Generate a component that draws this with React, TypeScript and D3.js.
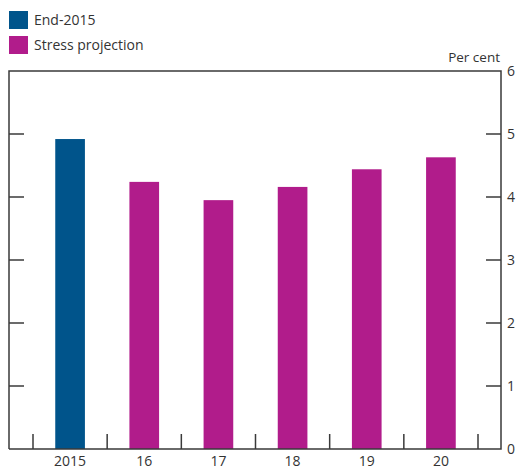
import React from 'react';
import * as d3 from 'd3';

const categories = ['2015', '16', '17', '18', '19', '20'];
const values = [4.92, 4.24, 3.95, 4.16, 4.44, 4.63];
const seriesOf = ['End-2015', 'Stress projection', 'Stress projection', 'Stress projection', 'Stress projection', 'Stress projection'];
const legendItems = ['End-2015', 'Stress projection'];
const yTicks = [0, 1, 2, 3, 4, 5, 6];

const colors: Record<string, string> = {
  'End-2015': '#00548B',
  'Stress projection': '#B11C8B',
};

const W = 517;
const H = 470;
const frame = { left: 9, right: 501, top: 71, bottom: 449 };
const axisColor = '#3a3a3a';
const textColor = '#333';
const font = "'Open Sans', 'Noto Sans', sans-serif";

const App: React.FC = () => {
  const svgRef = React.useRef<SVGSVGElement>(null);

  React.useEffect(() => {
    if (!svgRef.current) return;
    const svg = d3.select(svgRef.current);
    svg.selectAll('*').remove();

    const x = d3.scaleBand<string>().domain(categories).range([33, 478]).padding(0);
    const y = d3.scaleLinear().domain([0, 6]).range([frame.bottom, frame.top]);
    const barW = x.bandwidth() * 0.4;

    // Bars
    svg.append('g')
      .selectAll('rect')
      .data(categories)
      .enter().append('rect')
      .attr('x', d => (x(d) || 0) + x.bandwidth() / 2 - barW / 2)
      .attr('y', (d, i) => y(values[i]))
      .attr('width', barW)
      .attr('height', (d, i) => y(0) - y(values[i]))
      .attr('fill', (d, i) => colors[seriesOf[i]]);

    // Frame (top, left, right, bottom)
    svg.append('path')
      .attr('d', `M${frame.left},${frame.bottom}V${frame.top}H${frame.right}V${frame.bottom}H${frame.left}`)
      .attr('fill', 'none')
      .attr('stroke', axisColor)
      .attr('stroke-width', 1.5);

    // Y ticks inward on both sides
    const inner = yTicks.filter(t => t > 0 && t < 6);
    svg.append('g').selectAll('line.l').data(inner).enter().append('line')
      .attr('x1', frame.left).attr('x2', frame.left + 15)
      .attr('y1', d => y(d)).attr('y2', d => y(d))
      .attr('stroke', axisColor).attr('stroke-width', 1.5);
    svg.append('g').selectAll('line.r').data(inner).enter().append('line')
      .attr('x1', frame.right - 15).attr('x2', frame.right)
      .attr('y1', d => y(d)).attr('y2', d => y(d))
      .attr('stroke', axisColor).attr('stroke-width', 1.5);

    // Y labels on the right
    svg.append('g').selectAll('text').data(yTicks).enter().append('text')
      .attr('x', 507).attr('y', d => y(d))
      .attr('dy', '0.35em')
      .attr('font-family', font).attr('font-size', 14)
      .attr('fill', textColor)
      .text(d => String(d));

    svg.append('text')
      .attr('x', 500).attr('y', 62)
      .attr('text-anchor', 'end')
      .attr('font-family', font).attr('font-size', 13.5)
      .attr('fill', textColor)
      .text('Per cent');

    // X ticks: band boundaries
    const bounds = categories.map(c => x(c) || 0).concat([(x(categories[categories.length - 1]) || 0) + x.bandwidth()]);
    svg.append('g').selectAll('line').data(bounds).enter().append('line')
      .attr('x1', d => d).attr('x2', d => d)
      .attr('y1', frame.bottom - 15).attr('y2', frame.bottom)
      .attr('stroke', axisColor).attr('stroke-width', 1.5);

    svg.append('g').selectAll('text').data(categories).enter().append('text')
      .attr('x', d => (x(d) || 0) + x.bandwidth() / 2)
      .attr('y', 466)
      .attr('text-anchor', 'middle')
      .attr('font-family', font).attr('font-size', 14)
      .attr('fill', textColor)
      .text(d => d);

    // Legend
    const legend = svg.append('g').selectAll('g').data(legendItems).enter().append('g')
      .attr('transform', (d, i) => `translate(9,${11 + i * 25})`);
    legend.append('rect')
      .attr('width', 19).attr('height', 18)
      .attr('fill', d => colors[d]);
    legend.append('text')
      .attr('x', 25).attr('y', 9)
      .attr('dy', '0.35em')
      .attr('font-family', font).attr('font-size', 14)
      .attr('fill', textColor)
      .text(d => d);
  }, []);

  return (
    <svg
      ref={svgRef}
      width={W}
      height={H}
      style={{ position: 'absolute', left: 0, top: 0, background: '#fff' }}
    />
  );
};

export default App;
